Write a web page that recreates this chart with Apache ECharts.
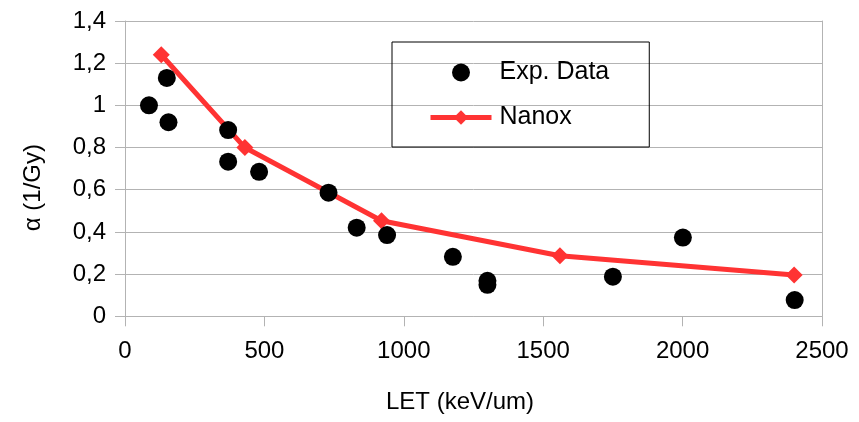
<!DOCTYPE html>
<html>
<head>
<meta charset="utf-8">
<script src="https://cdn.jsdelivr.net/npm/echarts@6/dist/echarts.min.js"></script>
<style>
html,body{margin:0;padding:0;background:#fff;}
#c{width:859px;height:422px;}
</style>
</head>
<body>
<div id="c"></div>
<script>
var expX = [86, 150, 156, 370, 370, 481, 730, 831, 940, 1176, 1300, 1300, 1750, 2001, 2402];
var expY = [1.0, 1.13, 0.92, 0.883, 0.733, 0.685, 0.586, 0.42, 0.385, 0.282, 0.168, 0.149, 0.188, 0.373, 0.077];
var nanoxX = [130, 430, 920, 1560, 2400];
var nanoxY = [1.24, 0.80, 0.453, 0.287, 0.196];
var seriesNames = ['Exp. Data', 'Nanox'];
var xTitle = 'LET (keV/um)';
var yTitle = 'α (1/Gy)';

function pairs(xs, ys){ return xs.map(function(x,i){ return [x, ys[i]]; }); }
var font = 'Liberation Sans';
var gridColor = '#b3b3b3';

var chart = echarts.init(document.getElementById('c'), null, {renderer:'canvas'});
chart.setOption({
  animation: false,
  textStyle: {fontFamily: font},
  grid: {left:125, right:37, top:21, bottom:105.7, containLabel:false},
  legend: {
    orient: 'vertical',
    left: 392, top: 42,
    borderColor: '#000', borderWidth: 1,
    padding: [18, 40, 17, 36],
    itemGap: 20,
    itemWidth: 61, itemHeight: 18,
    lineStyle: {width: 5},
    textStyle: {fontFamily: font, fontSize: 25, color: '#000', padding:[0,0,0,3]},
    data: seriesNames
  },
  xAxis: {
    type: 'value', min: 0, max: 2500, interval: 500,
    name: xTitle, nameLocation: 'middle', nameGap: 74,
    nameTextStyle: {fontFamily: font, fontSize: 24, color: '#000', padding:[0,27,0,0]},
    axisLine: {show:true, lineStyle:{color: gridColor, width:1}},
    axisTick: {show:true, length:10, lineStyle:{color: gridColor}},
    axisLabel: {fontFamily: font, fontSize: 24, color:'#000', margin: 23,
      formatter: function(v){ return String(Math.round(v)); }},
    splitLine: {show:false}
  },
  yAxis: [{
    type: 'value', min: 0, max: 1.4, interval: 0.2,
    name: yTitle, nameLocation: 'middle', nameGap: 80, nameRotate: 90,
    nameTextStyle: {fontFamily: font, fontSize: 24, color: '#000', padding:[0,38,0,0]},
    axisLine: {show:true, lineStyle:{color: gridColor, width:1}},
    axisTick: {show:true, length:10, lineStyle:{color: gridColor}},
    axisLabel: {fontFamily: font, fontSize: 24, color:'#000', margin: 19, padding:[3,0,0,0],
      formatter: function(v){ return String(Math.round(v*10)/10).replace('.', ','); }},
    splitLine: {show:true, lineStyle:{color: gridColor, width:1}}
  },{
    type: 'value', min: 0, max: 1.4, interval: 0.2, position: 'right',
    axisLine: {show:true, lineStyle:{color: gridColor, width:1}},
    axisTick: {show:false}, axisLabel: {show:false}, splitLine: {show:false}
  }],
  series: [{
    name: seriesNames[0], type: 'scatter', z: 3,
    symbol: 'circle', symbolSize: 18,
    itemStyle: {color: '#000', opacity: 1},
    data: pairs(expX, expY)
  },{
    name: seriesNames[1], type: 'line', z: 2,
    symbol: 'diamond', symbolSize: 17, showAllSymbol: true,
    lineStyle: {color: '#ff3333', width: 5},
    itemStyle: {color: '#ff3333'},
    data: pairs(nanoxX, nanoxY)
  }]
});
</script>
</body>
</html>
